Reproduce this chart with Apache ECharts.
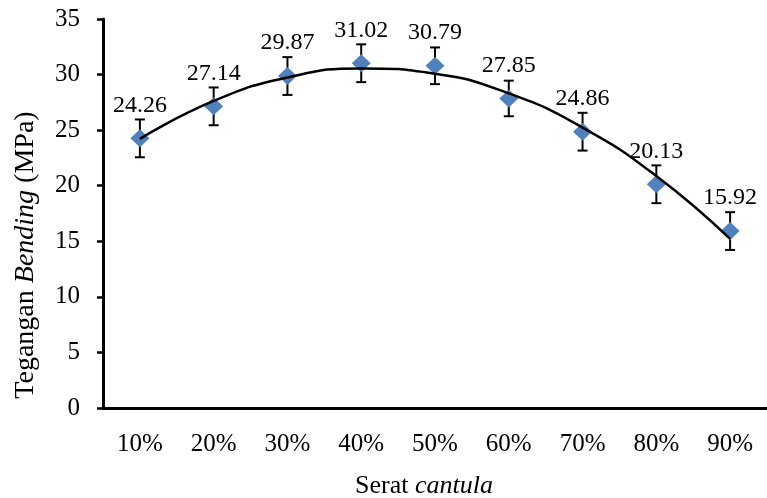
<!DOCTYPE html>
<html>
<head>
<meta charset="utf-8">
<script src="https://cdn.jsdelivr.net/npm/echarts@6/dist/echarts.min.js"></script>
<style>
  html, body { margin: 0; padding: 0; background: #fff; }
  #box { width: 767px; height: 498px; }
</style>
</head>
<body>
<div id="box"></div>
<script>
var categories = ['10%', '20%', '30%', '40%', '50%', '60%', '70%', '80%', '90%'];
var stress = [24.26, 27.14, 29.87, 31.02, 30.79, 27.85, 24.86, 20.13, 15.92];
var errorSize = [1.7, 1.7, 1.7, 1.7, 1.65, 1.6, 1.7, 1.7, 1.7];
var yMin = 0, yMax = 35, yStep = 5;

var serif = "'Liberation Serif', 'Times New Roman', serif";

// 2nd order polynomial trendline (least squares), like the Excel one
function polyFit2(ys) {
    var n = ys.length, s = [0, 0, 0, 0, 0], t = [0, 0, 0];
    for (var i = 0; i < n; i++) {
        var x = i + 1, p = 1;
        for (var k = 0; k < 5; k++) { s[k] += p; if (k < 3) t[k] += p * ys[i]; p *= x; }
    }
    // solve normal equations 3x3
    var m = [[s[0], s[1], s[2], t[0]], [s[1], s[2], s[3], t[1]], [s[2], s[3], s[4], t[2]]];
    for (var c = 0; c < 3; c++) {
        for (var r = c + 1; r < 3; r++) {
            var f = m[r][c] / m[c][c];
            for (var j = c; j < 4; j++) m[r][j] -= f * m[c][j];
        }
    }
    var coef = [0, 0, 0];
    for (var r2 = 2; r2 >= 0; r2--) {
        var sum = m[r2][3];
        for (var j2 = r2 + 1; j2 < 3; j2++) sum -= m[r2][j2] * coef[j2];
        coef[r2] = sum / m[r2][r2];
    }
    return ys.map(function (v, i) { var x = i + 1; return coef[0] + coef[1] * x + coef[2] * x * x; });
}
var trend = polyFit2(stress);

var errData = stress.map(function (v, i) { return [i, v + errorSize[i], v - errorSize[i]]; });

var dom = document.getElementById('box');
var myChart = echarts.init(dom);

var option = {
    animation: false,
    grid: { left: 103, right: -5, top: 19, bottom: 90 },
    xAxis: {
        type: 'category',
        data: categories,
        boundaryGap: true,
        axisLine: { lineStyle: { color: '#000', width: 3 } },
        axisTick: { alignWithLabel: true, length: 5, lineStyle: { color: '#000', width: 2.5 } },
        axisLabel: { fontSize: 25, fontFamily: serif, color: '#000', margin: 24 }
    },
    yAxis: {
        type: 'value',
        min: yMin,
        max: yMax,
        interval: yStep,
        axisLine: { show: true, lineStyle: { color: '#000', width: 3 } },
        axisTick: { show: true, length: 6, lineStyle: { color: '#000', width: 2.5 } },
        splitLine: { show: false },
        axisLabel: { fontSize: 25, fontFamily: serif, color: '#000', margin: 23 }
    },
    graphic: [
        {
            type: 'text',
            x: 355, y: 486,
            style: {
                text: '{a|Serat }{b|cantula}',
                align: 'left',
                verticalAlign: 'middle',
                rich: {
                    a: { fontSize: 26, fontFamily: serif, fill: '#000' },
                    b: { fontSize: 26, fontFamily: serif, fontStyle: 'italic', fill: '#000' }
                }
            }
        },
        {
            type: 'text',
            x: 26, y: 255,
            rotation: Math.PI / 2,
            style: {
                text: '{a|Tegangan }{b|Bending}{a| (MPa)}',
                align: 'center',
                verticalAlign: 'middle',
                rich: {
                    a: { fontSize: 28, fontFamily: serif, fill: '#000' },
                    b: { fontSize: 28, fontFamily: serif, fontStyle: 'italic', fill: '#000' }
                }
            }
        }
    ],
    series: [
        {
            name: 'error',
            type: 'custom',
            z: 2,
            data: errData,
            renderItem: function (params, api) {
                var i = api.value(0);
                var top = api.coord([i, api.value(1)]);
                var bot = api.coord([i, api.value(2)]);
                var w = 5;
                var st = { stroke: '#000', lineWidth: 2 };
                return {
                    type: 'group',
                    children: [
                        { type: 'line', shape: { x1: top[0], y1: top[1], x2: bot[0], y2: bot[1] }, style: st },
                        { type: 'line', shape: { x1: top[0] - w, y1: top[1], x2: top[0] + w, y2: top[1] }, style: st },
                        { type: 'line', shape: { x1: bot[0] - w, y1: bot[1], x2: bot[0] + w, y2: bot[1] }, style: st }
                    ]
                };
            }
        },
        {
            name: 'Tegangan Bending',
            type: 'scatter',
            z: 3,
            symbol: 'diamond',
            symbolSize: [19, 18],
            itemStyle: { color: '#4F81BD', opacity: 1 },
            label: {
                show: true,
                position: 'top',
                distance: 12,
                fontSize: 24,
                fontFamily: serif,
                color: '#000',
                formatter: function (p) { return p.value.toFixed(2); }
            },
            data: stress
        },
        {
            name: 'trend',
            type: 'line',
            z: 4,
            smooth: true,
            showSymbol: false,
            lineStyle: { color: '#000', width: 2.5 },
            data: trend
        }
    ]
};

if (option && typeof option === "object") {
    myChart.setOption(option, true);
}
</script>
</body>
</html>
